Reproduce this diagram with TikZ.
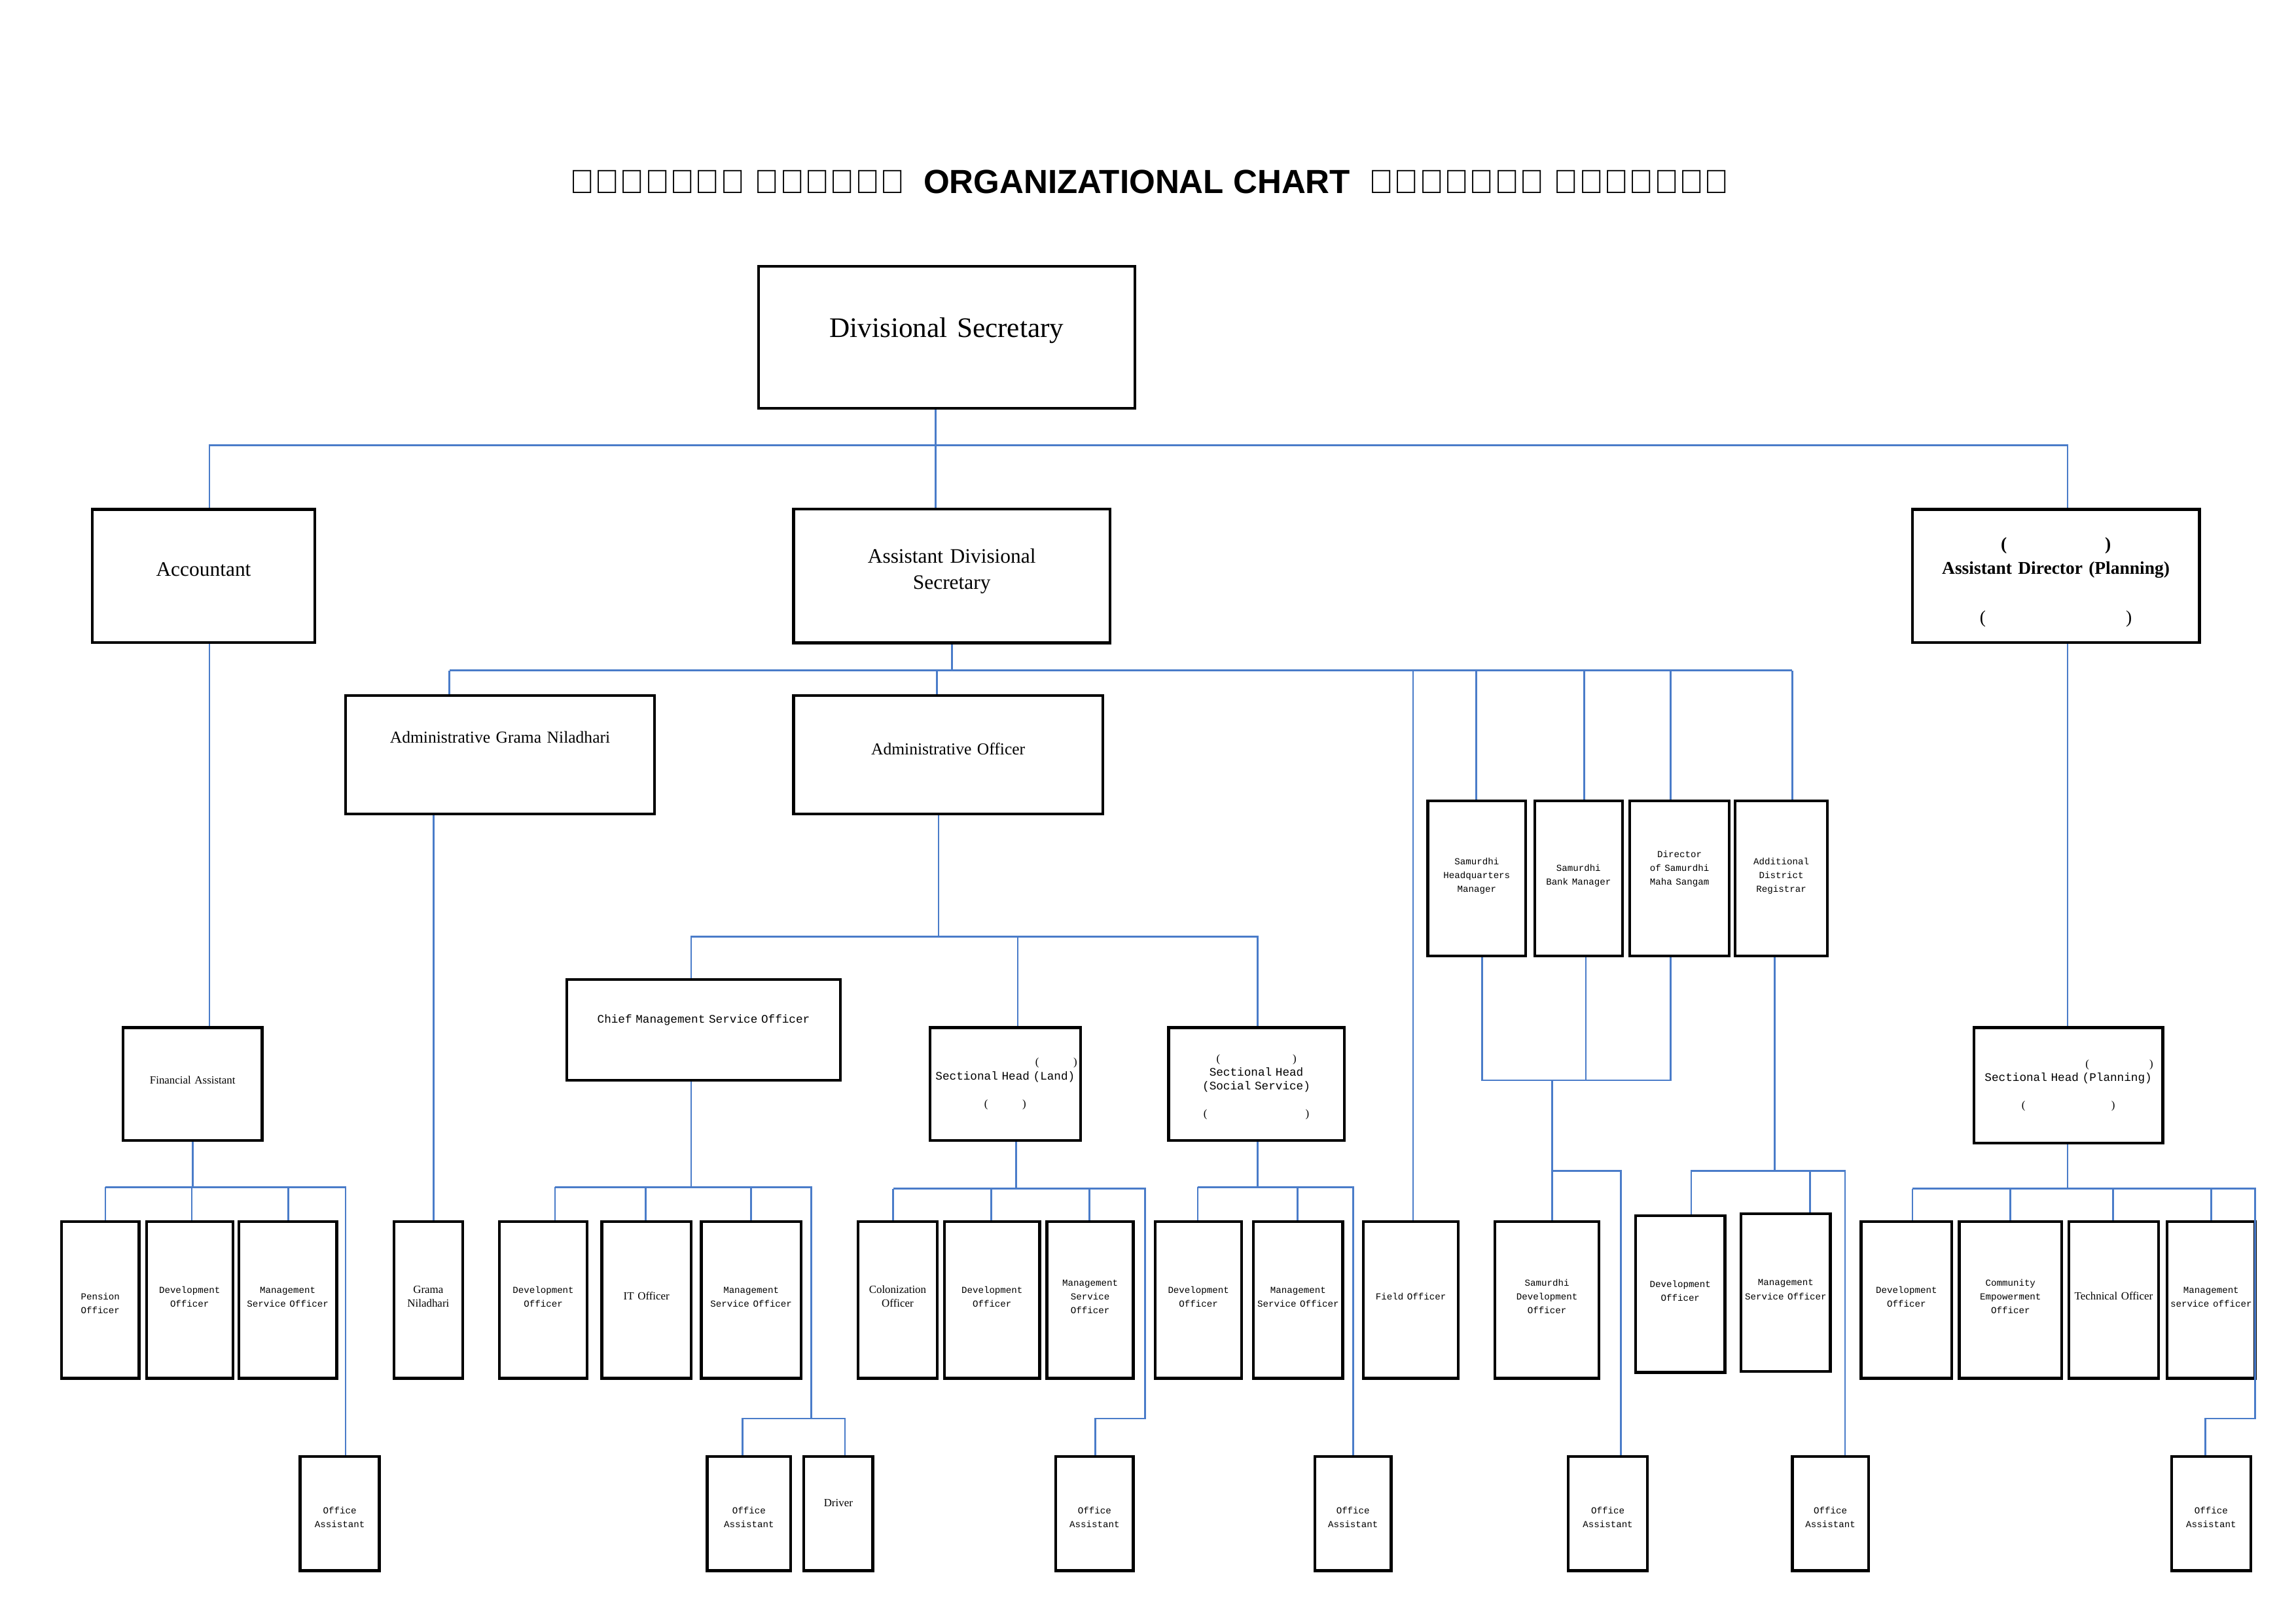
\documentclass[tikz,border=0pt]{standalone}
\usepackage{fontspec}
\setmainfont{Liberation Serif}
\setmonofont{Liberation Mono}
\setsansfont{Liberation Sans}
\definecolor{linkblue}{HTML}{4A7CC9}

\newcommand{\bx}[6]{\node[small, minimum width=#4*0.02cm, minimum height=#5*0.02cm, text width=(#4-4)*0.02cm] (#1) at (#2,#3) {#6};}
\newcommand{\tn}{\fontsize{3.6}{4.4}\selectfont\ttfamily}

\begin{document}
\begin{tikzpicture}[x=0.02cm,y=-0.02cm,
	box/.style = {draw, line width=1.1pt, align=center, inner sep=1pt},
	big/.style = {box, text width=#1*0.02cm-6pt, minimum width=#1*0.02cm},
	small/.style = {box, font=\fontsize{4.3}{5.4}\selectfont},
	link/.style = {draw=linkblue, line width=0.7pt}]
	\useasboundingbox (0,0) rectangle (1568,1109);

	\node[font=\sffamily\bfseries\fontsize{13}{15}\selectfont] (title) at (785,124) {සංවිධාන ව්‍යුහය\ \ ORGANIZATIONAL CHART\ \ அமைப்பு வரைபடம்};

	% top levels
	\node[big=257, minimum height=97*0.02cm, font=\fontsize{11}{14}\selectfont] (ds) at (646.5,230.5) {\textbf{ප්‍රාදේශීය ලේකම්}\\Divisional Secretary\\\textbf{பிரதேச செயலாளர்}};
	\node[big=152, minimum height=91*0.02cm, font=\fontsize{8}{11}\selectfont] (acc) at (139,393.5) {ගණකාධිකාරී\\Accountant\\கணக்காளர்};
	\node[big=216, minimum height=91*0.02cm, font=\fontsize{8}{10}\selectfont] (ads) at (650,393.5) {\textbf{සහකාර ප්‍රාදේශීය ලේකම්}\\Assistant Divisional\\Secretary\\உதவி பிரதேச செயலாளர்};
	\node[big=196, minimum height=91*0.02cm, font=\fontsize{7}{9.5}\selectfont] (adp) at (1404,393.5) {\textbf{සහකාර අධ්‍යක්ෂ (සැලසුම්)}\\\textbf{Assistant Director (Planning)}\\உதவி பணிப்பாளர்\\(திட்டமிடல்)};
	\node[big=211, minimum height=81*0.02cm, font=\fontsize{6.5}{9}\selectfont] (agn) at (341.5,515.5) {පරිපාලන ග්‍රාම නිලධාරී\\Administrative Grama Niladhari\\நிர்வாக கிராம உத்தியோகத்தர்};
	\node[big=211, minimum height=81*0.02cm, font=\fontsize{6.5}{9}\selectfont] (ao) at (647.5,515.5) {පරිපාලන නිලධාරී\\Administrative Officer\\நிர்வாக உத்தியோகத்தர்};

	% samurdhi
	\bx{smhq}{1008.5}{600}{67}{106}{සමෘද්ධි මූලස්ථාන කළමනාකරු\\{\tn Samurdhi Headquarters Manager} சமுர்த்தி தலைமையக முகாமையாளர்}
	\bx{smbk}{1078}{600}{60}{106}{සමෘද්ධි බැංකු කළමනාකරු\\{\tn Samurdhi Bank Manager}\\சமுர்த்தி வங்கி முகாமையாளர்}
	\bx{smms}{1147}{600}{68}{106}{සමෘද්ධි මහ සංගම් අධ්‍යක්ෂ {\tn Director of Samurdhi Maha Sangam}\\சமுர்த்தி மகா சங்கத்தின் பணிப்பாளர்}
	\bx{adr}{1216.5}{600}{63}{106}{අතිරේක දිස්ත්‍රික් රෙජිස්ට්‍රාර්\\{\tn Additional District Registrar}\\கூடுதல் மாவட்ட பதிவாளர்}

	% middle row
	\bx{fa}{131.5}{740.5}{95}{77}{මූල්‍ය සහකාර\\Financial Assistant\\நிதி உதவியாளர்}
	\bx{cmso}{480.5}{703.5}{187}{69}{ප්‍රධාන කළමනාකරණ සේවා නිලධාරී\\{\tn\fontsize{4.5}{5.5}\selectfont Chief Management Service Officer}\\பிரதான முகாமைத்துவ சேவை உத்தியோகத்தர்}
	\bx{shl}{686.5}{740.5}{103}{77}{ශාඛා ප්‍රධානී (ඉඩම්)\\{\tn\fontsize{4.5}{5.5}\selectfont Sectional Head (Land)}\\பகுதித் தலைவர்\\(இடம்)}
	\bx{shs}{858}{740.5}{120}{77}{ශාඛා ප්‍රධානී (සමාජ සේවා)\\{\tn\fontsize{4.5}{5.5}\selectfont Sectional Head (Social Service)}\\பகுதித் தலைவர்\\(சமூக சேவைகள்)}
	\bx{shp}{1412.5}{741.5}{129}{79}{ශාඛා ප්‍රධානී (සැලසුම්)\\{\tn\fontsize{4.5}{5.5}\selectfont Sectional Head (Planning)}\\பகுதித் தலைவர்\\(திட்டமிடல்)}

	% bottom row
	\bx{pen}{68.5}{888}{53}{107}{විශ්‍රාම වැටුප් නිලධාරී\\{\tn Pension Officer}\\ஓய்வூதிய உத்தியோகத்தர்}
	\bx{doa}{129.5}{888}{59}{107}{සංවර්ධන නිලධාරී\\{\tn Development Officer}\\அபிவிருத்தி உத்தியோகத்தர்}
	\bx{msoa}{196.5}{888}{67}{107}{කළමනාකරණ සේවා නිලධාරී\\{\tn Management Service Officer}\\முகாமைத்துவ சேவை உத்தியோகத்தர்}
	\bx{gn}{292.5}{888}{47}{107}{ග්‍රාම නිලධාරී\\Grama Niladhari\\கிராம உத்தியோகத்தர்}
	\bx{dob}{371}{888}{60}{107}{සංවර්ධන නිලධාරී\\{\tn Development Officer}\\அபிவிருத்தி உத்தியோகத்தர்}
	\bx{ito}{441.5}{888}{61}{107}{තොරතුරු තාක්ෂණ සහකාර\\IT Officer\\தகவல் தொழில்நுட்ப உதவியாளர்}
	\bx{msob}{513}{888}{68}{107}{කළමනාකරණ සේවා නිලධාරී\\{\tn Management Service Officer}\\முகாமைத்துவ சேவை உத்தியோகத்தர்}
	\bx{col}{613}{888}{54}{107}{ජනපද නිලධාරී\\Colonization Officer\\காலனி உத்தியோகத்தர்}
	\bx{doc}{677.5}{888}{65}{107}{සංවර්ධන නිලධාරී\\{\tn Development Officer}\\அபிவிருத்தி உத்தியோகத்தர்}
	\bx{msoc}{744.5}{888}{59}{107}{කළමනාකරණ සේවා නිලධාරී\\{\tn Management Service Officer}\\முகாமைத்துவ சேவை உத்தியோகத்தர்}
	\bx{dod}{818.5}{888}{59}{107}{සංවර්ධන නිලධාරී\\{\tn Development Officer}\\அபிவிருத்தி உத்தியோகத்தர்}
	\bx{msod}{886.5}{888}{61}{107}{කළමනාකරණ සේවා නිලධාරී\\{\tn Management Service Officer}\\முகாமைத்துவ சேவை உத்தியோகத்தர்}
	\bx{fo}{963.5}{888}{65}{107}{ක්ෂේත්‍ර නිලධාරී\\{\tn Field Officer}\\வெளிக்கள உத்தியோகத்தர்}
	\bx{sdo}{1056.5}{888}{71}{107}{සමෘද්ධි සංවර්ධන නිලධාරී\\{\tn Samurdhi Development Officer}\\சமுர்த்தி அபிவிருத்தி உத்தியோகத்தர்}
	\bx{doe}{1147.5}{884}{61}{107}{සංවර්ධන නිලධාරී\\{\tn Development Officer}\\அபிவிருத்தி உத்தியோகத்தர்}
	\bx{msoe}{1219.5}{883}{61}{108}{කළමනාකරණ සේවා නිලධාරී\\{\tn Management Service Officer}\\முகாமைத்துவ சேவை உத்தியோகத்தர்}
	\bx{dof}{1302}{888}{62}{107}{සංවර්ධන නිලධාරී\\{\tn Development Officer}\\அபிவிருத்தி உத்தியோகத்தர்}
	\bx{ceo}{1373}{888}{70}{107}{ප්‍රජා සවිබලගැන්වීමේ නිලධාරී\\{\tn Community Empowerment Officer}\\சமூக வலுவூட்டல் உத்தியோகத்தர்}
	\bx{teo}{1443.5}{888}{61}{107}{කාර්මික නිලධාරී\\Technical Officer\\தொழில்நுட்ப உத்தியோகத்தர்}
	\bx{msof}{1510}{888}{60}{107}{කළමනාකරණ සේවා නිලධාරී\\{\tn Management service officer}\\முகாமைத்துவ சேவை உத்தியோகத்தர்}

	% office assistants
	\bx{oaa}{232}{1034}{54}{78}{කාර්යාල කාර්ය සහායක\\{\tn Office Assistant}\\அலுவலக உதவியாளர்}
	\bx{oab}{511.5}{1034}{57}{78}{කාර්යාල කාර්ය සහායක\\{\tn Office Assistant}\\அலுவலக உதவியாளர்}
	\bx{drv}{572.5}{1034}{47}{78}{රියදුරු\\Driver\\வாகன சாரதி}
	\bx{oac}{747.5}{1034}{53}{78}{කාර්යාල කාර්ය සහායක\\{\tn Office Assistant}\\அலுவலக உதவியாளர்}
	\bx{oad}{924}{1034}{52}{78}{කාර්යාල කාර්ය සහායක\\{\tn Office Assistant}\\அலுவலக உதவியாளர்}
	\bx{oae}{1098}{1034}{54}{78}{කාර්යාල කාර්ය සහායක\\{\tn Office Assistant}\\அலுவலக உதவியாளர்}
	\bx{oaf}{1250}{1034}{52}{78}{කාර්යාල කාර්ය සහායක\\{\tn Office Assistant}\\அலுவலக உதவியாளர்}
	\bx{oag}{1510}{1034}{54}{78}{කාර්යාල කාර්ය සහායක\\{\tn Office Assistant}\\அலுவலக உதவியாளர்}

	% connectors
	\draw[link] (ds.south -| 639,0) -- (639,304) coordinate (j0);
	\draw[link] (acc.north -| 143,0) |- (j0) -| (adp.north -| 1412,0);
	\draw[link] (j0) -- (ads.north -| 639,0);
	\draw[link] (ads.south) -- (650,458);
	\draw[link] (307,458) -- (1224,458);
	\draw[link] (agn.north -| 307,0) -- (307,458);
	\draw[link] (ao.north -| 640,0) -- (640,458);
	\draw[link] (fo.north -| 965,0) -- (965,458);
	\foreach \px/\n in {1008/smhq,1082/smbk,1141/smms,1224/adr}
		\draw[link] (\n.north -| \px,0) -- (\px,458);

	\draw[link] (acc.south -| 143,0) -- (fa.north -| 143,0);
	\draw[link] (fa.south) -- (131.5,811);
	\draw[link] (72,811) -- (236,811) -- (oaa.north -| 236,0);
	\foreach \px/\n in {72/pen,131/doa,197/msoa}
		\draw[link] (\px,811) -- (\n.north -| \px,0);
	\draw[link] (agn.south -| 296,0) -- (gn.north -| 296,0);

	\draw[link] (ao.south -| 641,0) -- (641,640);
	\draw[link] (cmso.north -| 472,0) |- (859,640) -- (shs.north -| 859,0);
	\draw[link] (695,640) -- (shl.north -| 695,0);

	\draw[link] (cmso.south -| 472,0) -- (472,811);
	\draw[link] (379,811) -- (554,811) -- (554,969);
	\foreach \px/\n in {379/dob,441/ito,513/msob}
		\draw[link] (\px,811) -- (\n.north -| \px,0);
	\draw[link] (oab.north -| 507,0) |- (577,969) -- (drv.north -| 577,0);

	\draw[link] (shl.south -| 694,0) -- (694,812);
	\draw[link] (610,812) -- (782,812) -- (782,969) -| (oac.north -| 748,0);
	\foreach \px/\n in {610/col,677/doc,744/msoc}
		\draw[link] (\px,812) -- (\n.north -| \px,0);

	\draw[link] (shs.south -| 859,0) -- (859,811);
	\draw[link] (818,811) -- (924,811) -- (oad.north -| 924,0);
	\foreach \px/\n in {818/dod,886/msod}
		\draw[link] (\px,811) -- (\n.north -| \px,0);

	\draw[link] (smhq.south -| 1012,0) |- (1141,738) -- (smms.south -| 1141,0);
	\draw[link] (smbk.south -| 1083,0) -- (1083,738);
	\draw[link] (1060,738) -- (sdo.north -| 1060,0);
	\draw[link] (1060,800) -| (oae.north -| 1107,0);
	\draw[link] (adr.south -| 1212,0) -- (1212,800);
	\draw[link] (doe.north -| 1155,0) |- (1260,800) -- (oaf.north -| 1260,0);
	\draw[link] (1236,800) -- (msoe.north -| 1236,0);

	\draw[link] (adp.south -| 1412,0) -- (shp.north -| 1412,0);
	\draw[link] (shp.south -| 1412,0) -- (1412,812);
	\draw[link] (1306,812) -- (1540,812) -- (1540,969) -| (oag.north -| 1506,0);
	\foreach \px/\n in {1306/dof,1373/ceo,1443/teo,1510/msof}
		\draw[link] (\px,812) -- (\n.north -| \px,0);
\end{tikzpicture}
\end{document}
